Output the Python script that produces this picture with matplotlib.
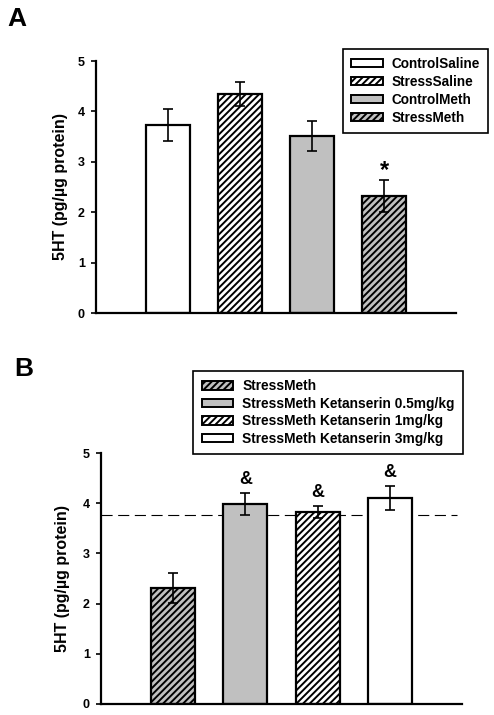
import matplotlib
matplotlib.use("Agg")
import matplotlib.pyplot as plt
from matplotlib.patches import Patch

plt.rcParams['font.family'] = ['Liberation Sans', 'DejaVu Sans']
plt.rcParams['font.weight'] = 'bold'
plt.rcParams['hatch.linewidth'] = 1.4
plt.rcParams['lines.scale_dashes'] = False

# ---- Data ----
groups_a = ['ControlSaline', 'StressSaline', 'ControlMeth', 'StressMeth']
values_a = [3.73, 4.35, 3.51, 2.32]
errors_a = [0.31, 0.24, 0.30, 0.31]
sig_a = ['', '', '', '*']

groups_b = ['StressMeth', 'StressMeth Ketanserin 0.5mg/kg',
            'StressMeth Ketanserin 1mg/kg', 'StressMeth Ketanserin 3mg/kg']
values_b = [2.31, 3.98, 3.82, 4.10]
errors_b = [0.30, 0.22, 0.12, 0.24]
sig_b = ['', '&', '&', '&']
reference_level = 3.77

yticks = [0, 1, 2, 3, 4, 5]
ylabel = '5HT (pg/\u00b5g protein)'

# ---- Styles ----
GRAY = '#c0c0c0'
HATCH = '/////'
style_a = [dict(facecolor='white', hatch=None),
           dict(facecolor='white', hatch=HATCH),
           dict(facecolor=GRAY, hatch=None),
           dict(facecolor=GRAY, hatch=HATCH)]
style_b = [dict(facecolor=GRAY, hatch=HATCH),
           dict(facecolor=GRAY, hatch=None),
           dict(facecolor='white', hatch=HATCH),
           dict(facecolor='white', hatch=None)]

W, H = 494, 715
fig = plt.figure(figsize=(W / 100, H / 100), dpi=100)


def px_axes(l, t, r, b):
    return fig.add_axes([l / W, 1 - b / H, (r - l) / W, (b - t) / H])


def draw_panel(ax, values, errors, styles, sig, sig_size, sig_offset, labelpad):
    x = list(range(len(values)))
    for i in x:
        ax.bar(i, values[i], width=0.61, facecolor=styles[i]['facecolor'],
               hatch=styles[i]['hatch'], edgecolor='black', linewidth=1.6, zorder=2)
    ax.errorbar(x, values, yerr=errors, fmt='none', ecolor='black',
                elinewidth=1.2, capsize=3.6, capthick=1.2, zorder=3)
    for i in x:
        if sig[i]:
            ax.annotate(sig[i], (i, values[i] + errors[i]), xytext=(0, sig_offset),
                        textcoords='offset points', ha='center', va='bottom',
                        fontsize=sig_size, fontweight='bold')
    ax.set_xlim(-1, 4)
    ax.set_ylim(0, 5)
    ax.set_yticks(yticks)
    ax.set_xticks([])
    for s in ['top', 'right']:
        ax.spines[s].set_visible(False)
    for s in ['left', 'bottom']:
        ax.spines[s].set_linewidth(1.6)
    ax.tick_params(axis='y', direction='out', length=3.5, width=1.2,
                   labelsize=9, pad=4.5)
    for lab in ax.get_yticklabels():
        lab.set_fontweight('bold')
    ax.set_ylabel(ylabel, fontsize=11.5, fontweight='bold', labelpad=labelpad)


def add_legend(ax, labels, styles, anchor, fontsize, spacing):
    handles = [Patch(facecolor=s['facecolor'], hatch=s['hatch'], edgecolor='black',
                     linewidth=1.4) for s in styles]
    leg = fig.legend(handles, labels, loc='upper right',
                     bbox_to_anchor=(anchor[0] / W, 1 - anchor[1] / H),
                     bbox_transform=fig.transFigure, fontsize=fontsize,
                     frameon=True, fancybox=False, framealpha=1, edgecolor='black',
                     handlelength=2.3, handleheight=0.55, handletextpad=0.65,
                     labelspacing=spacing, borderpad=0.6, borderaxespad=0)
    leg.get_frame().set_linewidth(1.2)
    for t in leg.get_texts():
        t.set_fontweight('bold')
    return leg


# Panel A
ax_a = px_axes(96, 61, 456, 313)
draw_panel(ax_a, values_a, errors_a, style_a, sig_a, 17, -1, 7)
add_legend(ax_a, groups_a, style_a, (488, 49), 9.8, 0.28)
fig.text(7 / W, 1 - 26 / H, 'A', fontsize=19, fontweight='bold', va='baseline')

# Panel B
ax_b = px_axes(101, 453, 462, 704)
draw_panel(ax_b, values_b, errors_b, style_b, sig_b, 13, 4, 9)
ax_b.axhline(reference_level, xmin=0, xmax=0.985, color='black', linewidth=0.8,
             dashes=(8, 4), zorder=1.5)
add_legend(ax_b, groups_b, style_b, (463, 371), 9.9, 0.26)
fig.text(14 / W, 1 - 376 / H, 'B', fontsize=19, fontweight='bold', va='baseline')

fig.savefig('out.png', dpi=100)
